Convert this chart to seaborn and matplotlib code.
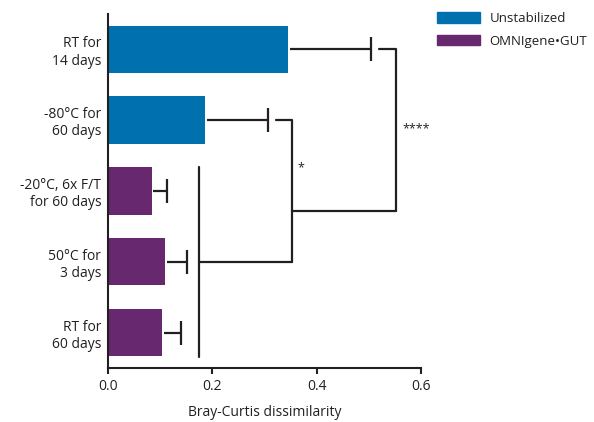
import matplotlib
matplotlib.use('Agg')
import matplotlib.pyplot as plt
import seaborn as sns
import pandas as pd
from matplotlib.patches import Patch

# data
conditions = ["RT for\n14 days", "-80°C for\n60 days", "-20°C, 6x F/T\nfor 60 days",
              "50°C for\n3 days", "RT for\n60 days"]
groups = ["Unstabilized", "Unstabilized", "OMNIgene•GUT", "OMNIgene•GUT", "OMNIgene•GUT"]
means = [0.345, 0.186, 0.084, 0.109, 0.104]
errors = [0.159, 0.121, 0.029, 0.042, 0.036]

palette = {"Unstabilized": "#0071ae", "OMNIgene•GUT": "#68286f"}

df = pd.DataFrame({"condition": conditions, "group": groups, "mean": means})

sns.set_style("ticks")
plt.rcParams['font.family'] = ['Open Sans', 'DejaVu Sans']

fig = plt.figure(figsize=(5.94, 4.22), dpi=100)
ax = fig.add_axes([0.182, 0.128, 0.527, 0.839])

sns.barplot(data=df, x="mean", y="condition", hue="group", palette=palette,
            dodge=False, width=0.67, orient="h", legend=False, ax=ax,
            saturation=1, linewidth=0)

lc = '#231f20'
lw = 1.6

# one-sided error bars (stem + cap on the outer end only)
for i, (m, e) in enumerate(zip(means, errors)):
    ax.plot([m + 0.003, m + e], [i, i], color=lc, lw=lw, solid_capstyle='butt')
    ax.plot([m + e], [i], marker='|', markersize=17, mew=lw, color=lc)

# significance brackets
ax.plot([0.174, 0.174], [1.66, 4.34], color=lc, lw=lw)
ax.plot([0.174, 0.352], [3, 3], color=lc, lw=lw)
ax.plot([0.321, 0.352, 0.352], [1, 1, 3], color=lc, lw=lw)
ax.plot([0.352, 0.552], [2.28, 2.28], color=lc, lw=lw)
ax.plot([0.519, 0.552, 0.552], [0, 0, 2.28], color=lc, lw=lw, clip_on=False)
ax.text(0.362, 1.67, "*", fontsize=9, color=lc, va='center', ha='left')
ax.text(0.565, 1.12, "****", fontsize=9, color=lc, va='center', ha='left', clip_on=False)

ax.set_xlim(0, 0.6)
ax.set_ylim(4.5, -0.5)
ax.set_xticks([0, 0.2, 0.4, 0.6])
ax.set_xticklabels(["0.0", "0.2", "0.4", "0.6"])
ax.set_xlabel("Bray-Curtis dissimilarity", fontsize=10, labelpad=8, color=lc)
ax.set_ylabel("")
ax.tick_params(axis='y', length=0, pad=5, labelsize=10, labelcolor=lc)
ax.tick_params(axis='x', length=4, width=1.5, pad=4, labelsize=10, labelcolor=lc, color=lc)
for lbl in ax.get_yticklabels():
    lbl.set_ha('right')
    lbl.set_multialignment('right')
sns.despine(ax=ax)
for s in ['left', 'bottom']:
    ax.spines[s].set_linewidth(1.5)
    ax.spines[s].set_color(lc)

handles = [Patch(color=palette[g], label=g) for g in ["Unstabilized", "OMNIgene•GUT"]]
fig.legend(handles=handles, loc='upper left', bbox_to_anchor=(0.715, 1.0), frameon=False,
           fontsize=9.5, handlelength=3.3, handleheight=0.85, labelspacing=0.75,
           handletextpad=0.7, labelcolor=lc)

fig.savefig("out.png", dpi=100)
